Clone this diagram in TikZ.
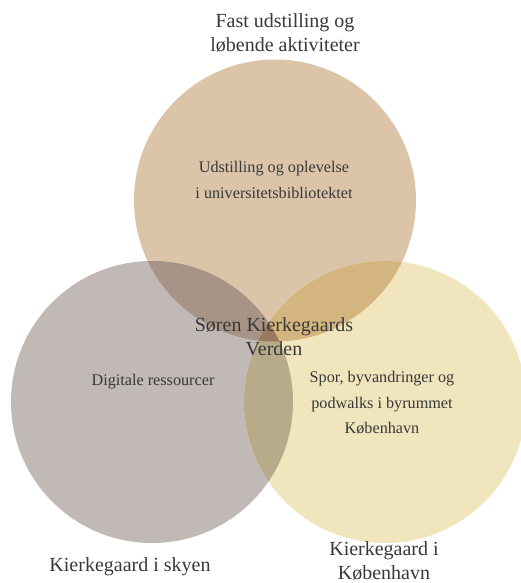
\documentclass[tikz,border=0pt]{standalone}
\usepackage{fontspec}
\setmainfont{Liberation Serif}
\definecolor{ctop}{HTML}{DCC4A9}
\definecolor{cleft}{HTML}{C1B9B5}
\definecolor{cright}{HTML}{F1E5BD}
\definecolor{ctl}{HTML}{A89486}
\definecolor{ctr}{HTML}{D5B57F}
\definecolor{clr}{HTML}{B8AB8A}
\definecolor{call}{HTML}{967C5C}
\definecolor{txt}{HTML}{383838}
\tikzset{
  outer/.style={font=\fontsize{20}{24}\selectfont, text=txt, align=center, inner sep=0pt},
  inner/.style={font=\fontsize{16.2}{25.5}\selectfont, text=txt, align=center, inner sep=0pt},
}
\begin{document}
\begin{tikzpicture}[x=1pt,y=-1pt]
\useasboundingbox (0,0) rectangle (521,583);
\clip (0,0) rectangle (521,583);
\def\R{141}
\coordinate (T) at (275,200.5);
\coordinate (L) at (152,402);
\coordinate (Rt) at (385,402);
\fill[ctop] (T) circle (\R);
\fill[cleft] (L) circle (\R);
\fill[cright] (Rt) circle (\R);
\begin{scope}
  \clip (T) circle (\R);
  \fill[ctl] (L) circle (\R);
  \fill[ctr] (Rt) circle (\R);
\end{scope}
\begin{scope}
  \clip (L) circle (\R);
  \fill[clr] (Rt) circle (\R);
  \clip (Rt) circle (\R);
  \fill[call] (T) circle (\R);
\end{scope}
\node[outer] (ttop) at (285,33) {Fast udstilling og\\løbende aktiviteter};
\node[inner] (itop) at (274,180) {Udstilling og oplevelse\\i universitetsbibliotektet};
\node[outer] (mid) at (274,337) {Søren Kierkegaards\\Verden};
\node[inner] (ileft) at (153,382) {Digitale ressourcer};
\node[inner] (iright) at (382,403) {Spor, byvandringer og\\podwalks i byrummet\\København};
\node[outer] (tleft) at (130,567) {Kierkegaard i skyen};
\node[outer] (tright) at (384,561) {Kierkegaard i\\København};
\end{tikzpicture}
\end{document}
